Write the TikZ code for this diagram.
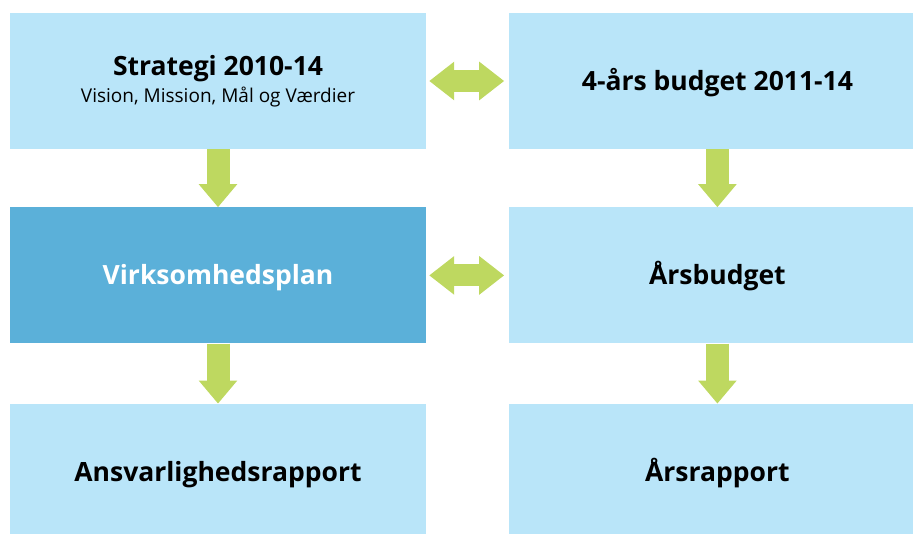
\documentclass[tikz,border=0pt]{standalone}
\usepackage{fontspec}
\setmainfont{Open Sans}
\usetikzlibrary{arrows.meta}
\usetikzlibrary{positioning}
\definecolor{lightbox}{HTML}{B9E5F9}
\definecolor{darkbox}{HTML}{5BB0D9}
\definecolor{arrowgreen}{HTML}{BED860}
\tikzset{box/.style={rectangle,fill=lightbox,minimum width=416pt,minimum height=136pt,inner sep=0pt,align=center,font=\fontsize{26.5}{30}\selectfont\bfseries}}
\tikzset{plan/.style={box,text height=20pt,text depth=1pt}}
\tikzset{mainplan/.style={plan,fill=darkbox,text=white}}
\tikzset{down/.style={draw=arrowgreen,line width=23pt,-{Triangle[width=37pt,length=23pt]}}}
\tikzset{both/.style={draw=arrowgreen,line width=22pt,{Triangle[width=37pt,length=25pt]}-{Triangle[width=37pt,length=25pt]},shorten >=5pt,shorten <=3pt}}

\begin{document}
\begin{tikzpicture}[x=1pt,y=-1pt]
  \clip (0,0) rectangle (913,533);
  \node [box] (strategi) at (218,81)
  {
    Strategi 2010-14\\[-3pt]
    {\fontsize{19}{22}\selectfont\mdseries Vision, Mission, Mål og Værdier}
  };
  \node [plan,right=83pt of strategi] (budget4) {4-års budget 2011-14};
  \node [mainplan,below=58pt of strategi] (virksomhed) {Virksomhedsplan};
  \node [plan,below=58pt of budget4] (aarsbudget) {Årsbudget};
  \node [plan,below=60pt of virksomhed] (ansvar) {Ansvarlighedsrapport};
  \node [plan,below=60pt of aarsbudget] (aarsrapport) {Årsrapport};

  \path (strategi.south) edge [down] (virksomhed.north)
        (budget4.south) edge [down] (aarsbudget.north)
        (virksomhed.south) edge [down] (ansvar.north)
        (aarsbudget.south) edge [down] (aarsrapport.north)
        (strategi.east) edge [both] (budget4.west)
        (virksomhed.east) edge [both] (aarsbudget.west);
\end{tikzpicture}
\end{document}
